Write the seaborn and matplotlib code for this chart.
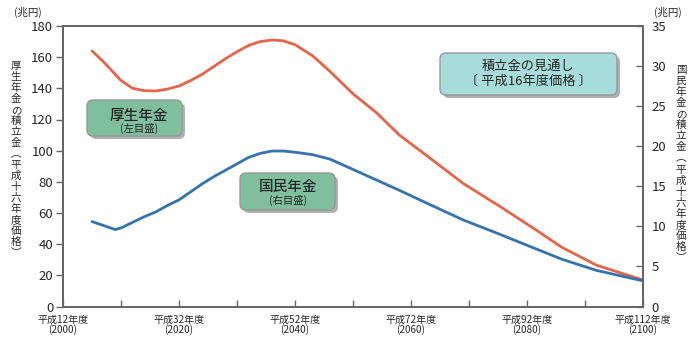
import matplotlib
matplotlib.use("Agg")
import matplotlib.pyplot as plt
import numpy as np
import pandas as pd
import seaborn as sns
from matplotlib.patches import FancyBboxPatch
from matplotlib.transforms import IdentityTransform

# ---- data ----
years = [2005, 2007, 2009, 2010, 2012, 2014, 2016, 2018, 2020, 2022, 2024, 2026,
         2028, 2030, 2032, 2034, 2036, 2038, 2040, 2043, 2046, 2050, 2054, 2058,
         2063, 2069, 2075, 2081, 2086, 2092, 2100]
kosei = [164, 157, 149, 145, 140, 138.5, 138.3, 139.5, 141.5, 145, 149, 154,
         159, 163.5, 167.5, 170, 171, 170.5, 168, 161, 151, 136.5, 124.5, 110,
         96, 79, 65, 50.5, 38, 26.5, 17]
kokumin = [10.6, 10.1, 9.6, 9.8, 10.5, 11.2, 11.8, 12.6, 13.3, 14.3, 15.3, 16.2,
           17.0, 17.8, 18.6, 19.1, 19.4, 19.4, 19.25, 18.95, 18.4, 17.1, 15.8, 14.5,
           12.8, 10.8, 9.1, 7.35, 5.9, 4.5, 3.2]
left_ticks = list(range(0, 181, 20))
right_ticks = list(range(0, 36, 5))
xtick_years = [2000, 2020, 2040, 2060, 2080, 2100]
xtick_labels = ["平成12年度\n(2000)", "平成32年度\n(2020)", "平成52年度\n(2040)",
                "平成72年度\n(2060)", "平成92年度\n(2080)", "平成112年度\n(2100)"]
minor_years = list(range(2000, 2101, 10))
left_title = "厚生年金の積立金︵平成十六年度価格︶"
right_title = "国民年金の積立金︵平成十六年度価格︶"

RED = "#e5644a"
BLUE = "#3672ad"
GREEN = "#7fbf9e"
TEAL = "#a6dcda"
SPINE = "#666666"

sns.set_theme(style="white")
plt.rcParams['font.family'] = ['Noto Sans CJK JP', 'DejaVu Sans']

W, H = 700, 342
fig = plt.figure(figsize=(W / 100, H / 100), dpi=100)
ax = fig.add_axes([63 / W, 1 - 306.5 / H, 580 / W, 280.5 / H])
ax2 = ax.twinx()

df = pd.DataFrame({"year": years, "kosei": kosei, "kokumin": kokumin})
sns.lineplot(data=df, x="year", y="kosei", ax=ax, color=RED, lw=2.0)
sns.lineplot(data=df, x="year", y="kokumin", ax=ax2, color=BLUE, lw=2.0)

ax.set_xlim(2000, 2100)
ax.set_ylim(0, 180)
ax2.set_ylim(0, 35)
ax.set_xlabel("")
ax.set_ylabel("")
ax2.set_ylabel("")

ax.set_yticks(left_ticks)
ax.set_yticklabels([str(t) for t in left_ticks])
ax2.set_yticks(right_ticks)
ax2.set_yticklabels([str(t) for t in right_ticks])
ax.set_xticks(xtick_years)
ax.set_xticklabels(xtick_labels, fontsize=7.2, linespacing=0.95)
ax.set_xticks(minor_years, minor=True)

ax.tick_params(axis='y', direction='out', length=5, width=1, color=SPINE,
               labelsize=9.5, pad=2, left=True)
ax2.tick_params(axis='y', direction='in', length=5, width=1, color=SPINE,
                labelsize=9.5, pad=6, right=True)
ax.tick_params(axis='x', which='both', direction='in', length=5, width=1,
               color=SPINE, pad=6, bottom=True)

for a in (ax, ax2):
    for s in a.spines.values():
        s.set_visible(True)
        s.set_color(SPINE)
        s.set_linewidth(1.4)

# unit labels
fig.text(28 / W, 1 - 12 / H, "(兆円)", fontsize=7.5, ha='center', va='center')
fig.text(668 / W, 1 - 12 / H, "(兆円)", fontsize=7.5, ha='center', va='center')


# vertical axis titles, one upright glyph per row
def vtext(xc, y_top, y_bot, s):
    n = len(s)
    step = (y_bot - y_top) / (n - 1)
    for i, ch in enumerate(s):
        fig.text(xc / W, 1 - (y_top + i * step) / H, ch, fontsize=7.6,
                 ha='center', va='center')


vtext(16, 66, 253, left_title)
vtext(681, 70, 258, right_title)


def box(x0, y0, x1, y1, fc):
    # pixel coords (image y downward)
    sh = FancyBboxPatch((x0 + 3, H - y1 - 3), x1 - x0, y1 - y0,
                        boxstyle="round,pad=0,rounding_size=6",
                        fc="#b0b0b0", ec="none", transform=IdentityTransform(),
                        zorder=5)
    bx = FancyBboxPatch((x0, H - y1), x1 - x0, y1 - y0,
                        boxstyle="round,pad=0,rounding_size=6",
                        fc=fc, ec="#999999", lw=1.0, transform=IdentityTransform(),
                        zorder=6)
    fig.patches.extend([sh, bx])


box(87, 100, 182, 136, GREEN)
box(240, 173, 335, 210, GREEN)
box(440, 53, 617, 95, TEAL)

fig.text(139 / W, 1 - 115.5 / H, "厚生年金", fontsize=10.5, ha='center', va='center',
         fontweight='medium', zorder=10)
fig.text(139 / W, 1 - 128.5 / H, "(左目盛)", fontsize=7.5, ha='center', va='center', zorder=10)
fig.text(288 / W, 1 - 187 / H, "国民年金", fontsize=10.5, ha='center', va='center',
         fontweight='medium', zorder=10)
fig.text(288 / W, 1 - 200.5 / H, "(右目盛)", fontsize=7.5, ha='center', va='center', zorder=10)
fig.text(528 / W, 1 - 66.5 / H, "積立金の見通し", fontsize=9.5, ha='center', va='center', zorder=10)
fig.text(528 / W, 1 - 81 / H, "〔 平成16年度価格 〕", fontsize=9.5, ha='center', va='center', zorder=10)

fig.savefig("out.png", dpi=100)
